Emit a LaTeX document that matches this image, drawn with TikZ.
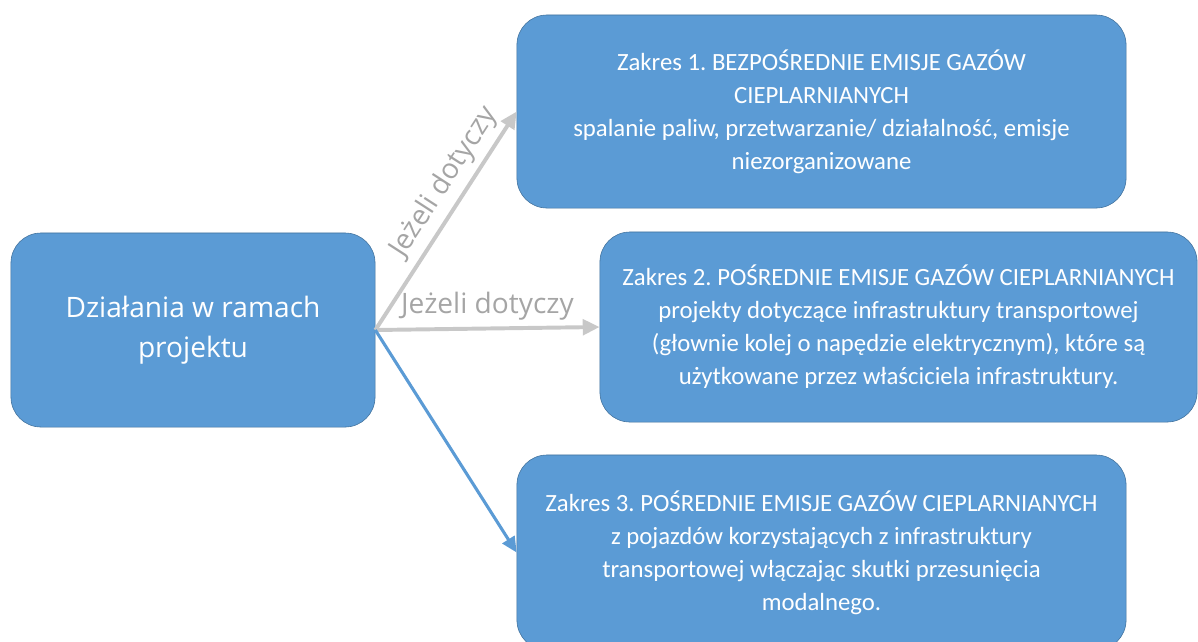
\documentclass[tikz,border=0pt]{standalone}
\usepackage{fontspec}
\setmainfont{Carlito}
\newfontfamily\labelfont{Open Sans}
\usetikzlibrary{arrows.meta}
\definecolor{boxblue}{RGB}{91,155,213}
\definecolor{boxline}{RGB}{65,113,156}
\definecolor{arrowgray}{RGB}{200,200,200}
\definecolor{labelgray}{RGB}{165,165,165}
\frenchspacing
\begin{document}
\begin{tikzpicture}[
		        x = 0.025cm, y = -0.025cm,
		        every node/.style = {
		        	font = \fontsize{17.6}{23.5}\selectfont
		        },
		        scopebox/.style = {
		        draw = boxline,
		        fill = boxblue,
		        text = white,
		        thin,
		        rounded corners = 0.75cm,
		        align = center,
		        inner sep = 0pt
		    },
		        ifnote/.style = {
		        font = \labelfont\fontsize{20}{22}\selectfont,
		        text = labelgray,
		        inner sep = 4.5pt
		    },
		        grayarrow/.style = {
		        draw = arrowgray,
		        line width = 2.8pt,
		        -{Triangle[length = 12pt, width = 11pt]}
		    },
		        bluearrow/.style = {
		        draw = boxblue,
		        line width = 2.2pt,
		        -{Triangle[length = 11pt, width = 10pt]}
		    }]
		    	\useasboundingbox (0, 0) rectangle (1198, 641);
		    	\node[scopebox, minimum width = 9.1cm, minimum height = 4.85cm, font = \labelfont\fontsize{20}{28.5}\selectfont] (proj) at (193, 330) {Działania w ramach\\projektu};
		    	\node[scopebox, minimum width = 15.225cm, minimum height = 4.825cm] (zakres1) at (821.5, 111.5) {Zakres 1. BEZPOŚREDNIE EMISJE GAZÓW\\CIEPLARNIANYCH\\spalanie paliw, przetwarzanie/ działalność, emisje\\niezorganizowane};
		    	\node[scopebox, minimum width = 14.925cm, minimum height = 4.75cm] (zakres2) at (898.5, 327) {Zakres 2. POŚREDNIE EMISJE GAZÓW CIEPLARNIANYCH\\projekty dotyczące infrastruktury transportowej\\(głownie kolej o napędzie elektrycznym), które są\\użytkowane przez właściciela infrastruktury.};
		    	\node[scopebox, minimum width = 15.225cm, minimum height = 4.875cm] (zakres3) at (821.5, 552.5) {Zakres 3. POŚREDNIE EMISJE GAZÓW CIEPLARNIANYCH\\z pojazdów korzystających z infrastruktury\\transportowej włączając skutki przesunięcia\\modalnego.};
		    	\draw[grayarrow] (proj.east) -- node[ifnote, pos = 0.62, above, sloped] {Jeżeli dotyczy} (zakres1.west);
		    	\draw[grayarrow] (proj.east) -- node[ifnote, above] {Jeżeli dotyczy} (zakres2.west);
		    	\draw[bluearrow] (proj.east) -- (zakres3.west);
	\end{tikzpicture}
\end{document}
